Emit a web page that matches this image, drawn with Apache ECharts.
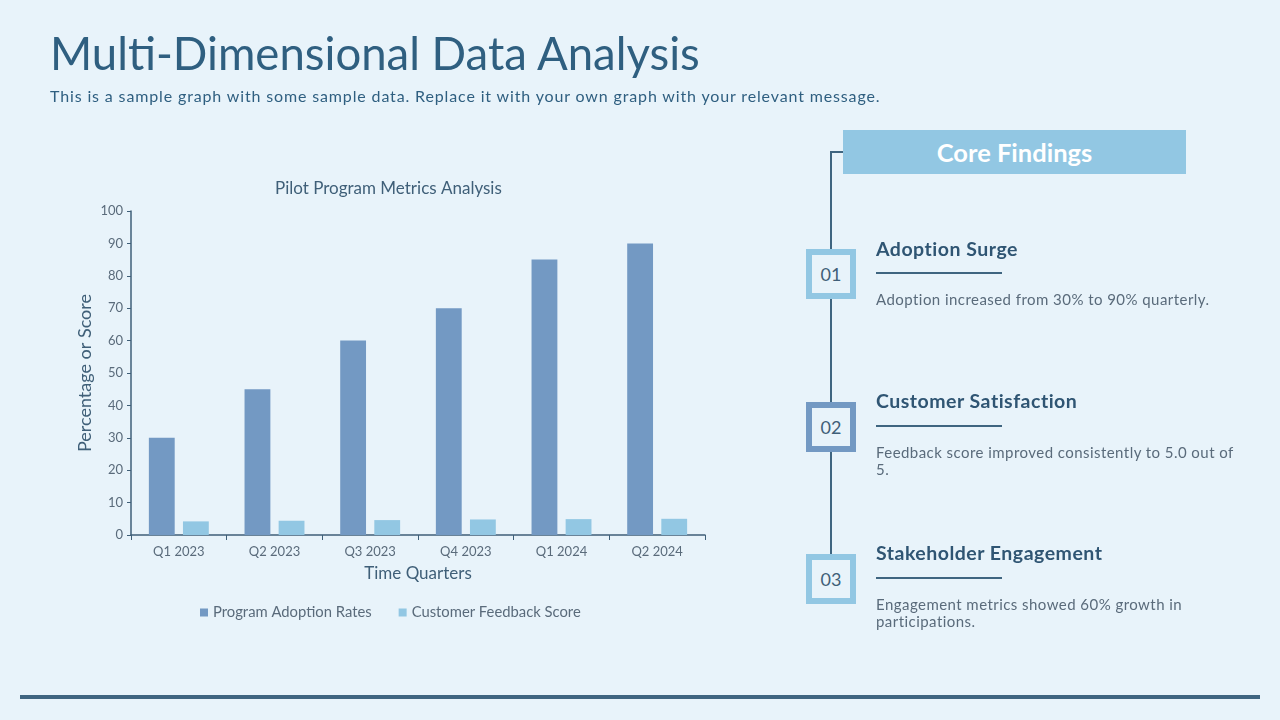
<!DOCTYPE html>
<html>
<head>
<meta charset="utf-8">
<script src="https://cdn.jsdelivr.net/npm/echarts@6/dist/echarts.min.js"></script>
<style>
  html, body { margin:0; padding:0; width:1280px; height:720px; background:#E8F3FA; overflow:hidden; font-family: Lato, "Open Sans", sans-serif; }
  #chart { position:absolute; left:0; top:0; width:1280px; height:720px; }
  .abs { position:absolute; white-space:nowrap; }
  #title { left:50px; top:26px; font-size:45.5px; color:#2F5F80; line-height:54px; }
  #subtitle { left:50px; top:86px; font-size:16px; letter-spacing:0.86px; color:#2F5F80; line-height:20px; }
  #bottomline { left:20px; top:695px; width:1240px; height:4px; background:#3F6580; }
  #vline { left:830px; top:152px; width:2px; height:402px; background:#3F6580; }
  #hline { left:830px; top:151px; width:13px; height:2px; background:#3F6580; }
  #core { left:843px; top:130px; width:343px; height:44px; background:#92C7E3; color:#fff; font-weight:bold; font-size:25.5px; line-height:44px; text-align:center; }
  .box { position:absolute; left:806px; width:38px; height:38px; border:6px solid #92C7E3; background:#E8F3FA; color:#3F5F78; font-size:18px; line-height:38px; text-align:center; }
  .head { position:absolute; left:876px; font-size:19.5px; letter-spacing:0.5px; font-weight:bold; color:#2F5573; white-space:nowrap; line-height:22px; }
  .ul { position:absolute; left:876px; width:126px; height:2px; background:#3F6580; }
  .desc { position:absolute; left:876px; font-size:15px; letter-spacing:0.45px; color:#5A6B7B; line-height:17px; white-space:nowrap; }
</style>
</head>
<body>
<div id="chart"></div>
<div id="title" class="abs">Multi-Dimensional Data Analysis</div>
<div id="subtitle" class="abs">This is a sample graph with some sample data. Replace it with your own graph with your relevant message.</div>
<div id="bottomline" class="abs"></div>
<div id="vline" class="abs"></div>
<div id="hline" class="abs"></div>
<div id="core" class="abs">Core Findings</div>

<div class="box" style="top:249px;">01</div>
<div class="head" style="top:238px;">Adoption Surge</div>
<div class="ul" style="top:272px;"></div>
<div class="desc" style="top:291px;">Adoption increased from 30% to 90% quarterly.</div>

<div class="box" style="top:402px; border-color:#7399C3;">02</div>
<div class="head" style="top:390px;">Customer Satisfaction</div>
<div class="ul" style="top:425px;"></div>
<div class="desc" style="top:444px;">Feedback score improved consistently to 5.0 out of<br>5.</div>

<div class="box" style="top:554px;">03</div>
<div class="head" style="top:542px;">Stakeholder Engagement</div>
<div class="ul" style="top:577px;"></div>
<div class="desc" style="top:596px;">Engagement metrics showed 60% growth in<br>participations.</div>

<script>
const categories = ["Q1 2023", "Q2 2023", "Q3 2023", "Q4 2023", "Q1 2024", "Q2 2024"];
const adoptionRates = [30, 45, 60, 70, 85, 90];
const feedbackScores = [4.2, 4.4, 4.6, 4.8, 4.9, 5.0];
const seriesNames = ["Program Adoption Rates", "Customer Feedback Score"];

const chart = echarts.init(document.getElementById('chart'));
const textColor = '#5A6B7B';
const axisColor = '#3F5F78';
const font = 'Lato, "Open Sans", sans-serif';
chart.setOption({
  backgroundColor: 'transparent',
  animation: false,
  title: {
    text: 'Pilot Program Metrics Analysis',
    left: 270, top: 175,
    textStyle: { fontFamily: font, fontSize: 17, fontWeight: 'normal', color: '#3F5F78' }
  },
  legend: {
    data: seriesNames,
    left: 195, top: 600,
    itemWidth: 8, itemHeight: 8, itemGap: 27, icon: 'rect',
    textStyle: { fontFamily: font, fontSize: 14.8, color: textColor }
  },
  grid: { left: 131, right: 575, top: 211, bottom: 185, containLabel: false },
  xAxis: {
    type: 'category', data: categories,
    name: 'Time Quarters', nameLocation: 'middle', nameGap: 30,
    nameTextStyle: { fontFamily: font, fontSize: 17, color: '#3F5F78' },
    axisLine: { lineStyle: { color: axisColor, width: 1.5 } },
    axisTick: { show: true, alignWithLabel: false, length: 5, lineStyle: { color: axisColor } },
    axisLabel: { fontFamily: font, fontSize: 13, color: textColor, margin: 10 }
  },
  yAxis: {
    type: 'value', min: 0, max: 100, interval: 10,
    name: 'Percentage or Score', nameLocation: 'middle', nameGap: 37,
    nameTextStyle: { fontFamily: font, fontSize: 18, color: '#3F5F78' },
    axisLine: { show: true, lineStyle: { color: axisColor, width: 1.5 } },
    axisTick: { show: true, length: 4, lineStyle: { color: axisColor } },
    splitLine: { show: false },
    axisLabel: { fontFamily: font, fontSize: 13, color: textColor, margin: 8 }
  },
  series: [
    { name: seriesNames[0], type: 'bar', data: adoptionRates, barWidth: '27%', barGap: '32%', itemStyle: { color: '#7399C3' } },
    { name: seriesNames[1], type: 'bar', data: feedbackScores, barWidth: '27%', itemStyle: { color: '#92C7E3' } }
  ]
});
</script>
</body>
</html>
